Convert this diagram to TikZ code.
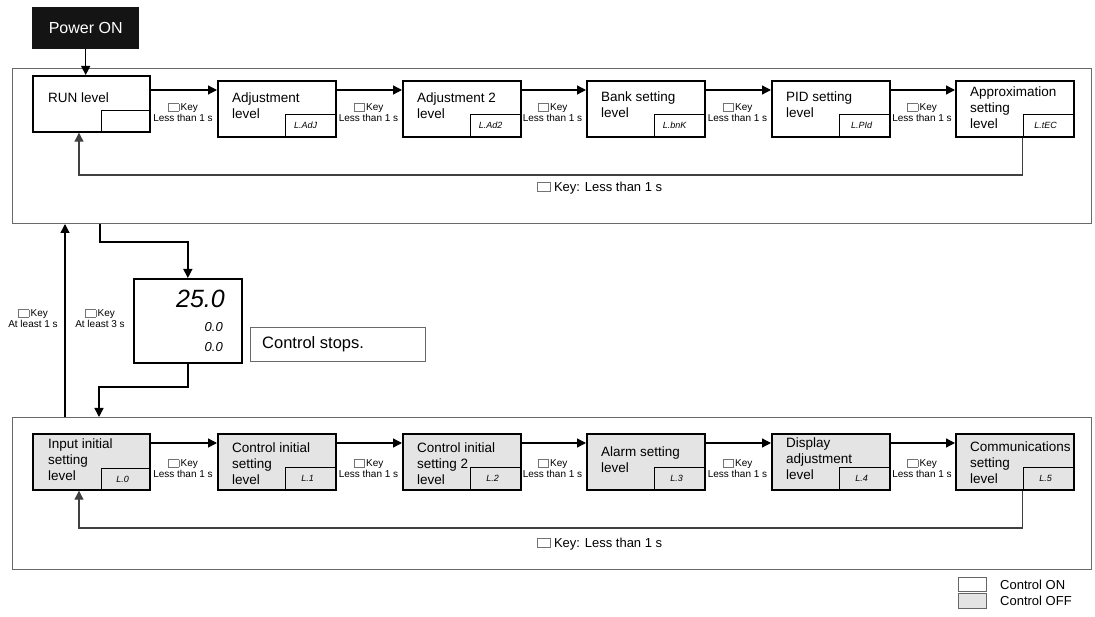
\documentclass[tikz,border=0pt]{standalone}
\usepackage{fontspec}
\setmainfont{Liberation Sans}
\usetikzlibrary{arrows.meta}
\definecolor{offgray}{RGB}{228,228,228}
\definecolor{framegray}{RGB}{105,105,105}
\newcommand{\keysq}{{\color{black!55}\setlength{\fboxrule}{0.5pt}\setlength{\fboxsep}{0pt}\fbox{\rule{0pt}{7pt}\rule{10pt}{0pt}}}}
\newcommand{\keysqL}{{\color{black!55}\setlength{\fboxrule}{0.6pt}\setlength{\fboxsep}{0pt}\fbox{\rule{0pt}{9pt}\rule{12pt}{0pt}}}}
\tikzset{
  frame/.style={draw=framegray, line width=1pt, anchor=north west, inner sep=0, minimum width=1079pt},
  lvl/.style={draw, line width=1.7pt, anchor=north west, inner sep=0, minimum width=118pt, minimum height=56pt},
  lvloff/.style={lvl, fill=offgray},
  codebox/.style={draw, line width=1pt, anchor=south east, inner sep=0, minimum width=51pt, minimum height=23pt},
  codetxt/.style={inner sep=0, font=\fontsize{9}{9}\selectfont\itshape},
  boxtxt/.style={anchor=west, align=left, inner sep=0, font=\fontsize{13.5}{16}\selectfont},
  keylbl/.style={align=center, inner sep=0, font=\fontsize{10}{10.5}\selectfont},
  biglbl/.style={anchor=west, inner sep=0, font=\fontsize{13}{14}\selectfont},
  conn/.style={line width=1.3pt, -{Triangle[length=9pt,width=9pt]}},
  retline/.style={line width=1.1pt, draw=black!75, -{Triangle[length=9pt,width=9pt]}},
}
\begin{document}
\begin{tikzpicture}[x=1pt,y=-1pt]
\useasboundingbox (0,0) rectangle (1095,617);

% frames
\node[frame, minimum height=155pt] (topframe) at (12,68) {};
\node[frame, minimum height=152pt] (botframe) at (12,417) {};

% power on
\node[fill=black!92, text=white, anchor=north west, inner sep=0, minimum width=107pt, minimum height=42pt, font=\fontsize{16}{18}\selectfont] (pw) at (32,7) {Power ON};

% top row
\node[lvl, minimum width=117pt] (run) at (32,75) {};
\node[lvl] (adj) at (217,80) {};
\node[lvl] (adj2) at (402,80) {};
\node[lvl] (bank) at (586,80) {};
\node[lvl] (pid) at (771,80) {};
\node[lvl] (app) at (955,80) {};
\draw[conn] (pw.south) -- (pw.south |- run.north);

\node[codebox, minimum width=49pt, minimum height=22pt] (runc) at (run.south east) {};
\node[codebox] (adjc) at (adj.south east) {};
\node[codebox] (adj2c) at (adj2.south east) {};
\node[codebox] (bankc) at (bank.south east) {};
\node[codebox] (pidc) at (pid.south east) {};
\node[codebox] (appc) at (app.south east) {};

\node[codetxt] (adjct) at ([xshift=-5pt]adjc.center) {L.AdJ};
\node[codetxt] (adj2ct) at ([xshift=-5pt]adj2c.center) {L.Ad2};
\node[codetxt] (bankct) at ([xshift=-5pt]bankc.center) {L.bnK};
\node[codetxt] (pidct) at ([xshift=-3pt]pidc.center) {L.PId};
\node[codetxt] (appct) at ([xshift=-3pt]appc.center) {L.tEC};

\node[boxtxt] (runt) at (48,98) {RUN level};
\node[boxtxt] (adjt) at (232,105.5) {Adjustment\\level};
\node[boxtxt] (adj2t) at (417,105.5) {Adjustment 2\\level};
\node[boxtxt] (bankt) at (601,105) {Bank setting\\level};
\node[boxtxt] (pidt) at (786,105) {PID setting\\level};
\node[boxtxt] (appt) at (970,108) {Approximation\\setting\\level};

\draw[conn] ([yshift=-15pt]run.north east) -- ([yshift=-10pt]adj.north west);
\draw[conn] ([yshift=-10pt]adj.north east) -- ([yshift=-10pt]adj2.north west);
\draw[conn] ([yshift=-10pt]adj2.north east) -- ([yshift=-10pt]bank.north west);
\draw[conn] ([yshift=-10pt]bank.north east) -- ([yshift=-10pt]pid.north west);
\draw[conn] ([yshift=-10pt]pid.north east) -- ([yshift=-10pt]app.north west);

\node[keylbl] (k1) at (183,112.5) {\keysq\,Key\\Less than 1 s};
\node[keylbl] (k2) at (368.5,112.5) {\keysq\,Key\\Less than 1 s};
\node[keylbl] (k3) at (552.5,112.5) {\keysq\,Key\\Less than 1 s};
\node[keylbl] (k4) at (737.5,112.5) {\keysq\,Key\\Less than 1 s};
\node[keylbl] (k5) at (922,112.5) {\keysq\,Key\\Less than 1 s};

\coordinate (rt1) at (79,175);
\draw[retline] (appc.south west) |- (rt1) -- (rt1 |- run.south);
\node[biglbl] (rl1) at (537,188) {\keysqL\ Key: Less than 1 s};

% middle
\coordinate (d1) at (100,242);
\coordinate (d2) at (99,387);
\coordinate (u1) at (65,300);
\node[draw, line width=1.7pt, anchor=north west, inner sep=0, minimum width=108pt, minimum height=84pt] (disp) at (133,278) {};
\draw[conn] (topframe.south -| d1) -- (d1) -| (disp.north);
\draw[conn] (disp.south) |- (d2) -- (d2 |- botframe.north);
\draw[conn] (botframe.north -| u1) -- (topframe.south -| u1);

\node[anchor=east, inner sep=0, font=\fontsize{25}{25}\selectfont\itshape] (dbig) at (225,299) {25.0};
\node[anchor=east, inner sep=0, font=\fontsize{13}{13}\selectfont\itshape] (dsm1) at (223,327) {0.0};
\node[anchor=east, inner sep=0, font=\fontsize{13}{13}\selectfont\itshape] (dsm2) at (223,347) {0.0};

\node[keylbl] (ku) at (33,318.5) {\keysq\,Key\\At least 1 s};
\node[keylbl] (kd) at (100,318.5) {\keysq\,Key\\At least 3 s};

\node[draw=framegray, line width=1pt, anchor=north west, inner sep=0, minimum width=175pt, minimum height=34pt] (stop) at (250,327) {};
\node[anchor=west, inner sep=0, font=\fontsize{16.5}{18}\selectfont] (stopt) at (262,344) {Control stops.};

% bottom row
\node[lvloff, minimum width=117pt] (inp) at (32,433) {};
\node[lvloff] (cin) at (217,433) {};
\node[lvloff] (cin2) at (402,433) {};
\node[lvloff] (alm) at (586,433) {};
\node[lvloff] (dsp) at (771,433) {};
\node[lvloff] (com) at (955,433) {};

\node[codebox, minimum width=49pt, minimum height=22pt] (inpc) at (inp.south east) {};
\node[codebox] (cinc) at (cin.south east) {};
\node[codebox] (cin2c) at (cin2.south east) {};
\node[codebox] (almc) at (alm.south east) {};
\node[codebox] (dspc) at (dsp.south east) {};
\node[codebox] (comc) at (com.south east) {};

\node[codetxt] (inpct) at ([xshift=-3pt]inpc.center) {L.0};
\node[codetxt] (cinct) at ([xshift=-3pt]cinc.center) {L.1};
\node[codetxt] (cin2ct) at ([xshift=-3pt]cin2c.center) {L.2};
\node[codetxt] (almct) at ([xshift=-3pt]almc.center) {L.3};
\node[codetxt] (dspct) at ([xshift=-3pt]dspc.center) {L.4};
\node[codetxt] (comct) at ([xshift=-3pt]comc.center) {L.5};

\node[boxtxt] (inpt) at (48,460) {Input initial\\setting\\level};
\node[boxtxt] (cint) at (232,464) {Control initial\\setting\\level};
\node[boxtxt] (cin2t) at (417,464) {Control initial\\setting 2\\level};
\node[boxtxt] (almt) at (601,460) {Alarm setting\\level};
\node[boxtxt] (dspt) at (786,459) {Display\\adjustment\\level};
\node[boxtxt] (comt) at (970,463) {Communications\\setting\\level};

\draw[conn] ([yshift=-10pt]inp.north east) -- ([yshift=-10pt]cin.north west);
\draw[conn] ([yshift=-10pt]cin.north east) -- ([yshift=-10pt]cin2.north west);
\draw[conn] ([yshift=-10pt]cin2.north east) -- ([yshift=-10pt]alm.north west);
\draw[conn] ([yshift=-10pt]alm.north east) -- ([yshift=-10pt]dsp.north west);
\draw[conn] ([yshift=-10pt]dsp.north east) -- ([yshift=-10pt]com.north west);

\node[keylbl] (b1) at (183,468.5) {\keysq\,Key\\Less than 1 s};
\node[keylbl] (b2) at (368.5,468.5) {\keysq\,Key\\Less than 1 s};
\node[keylbl] (b3) at (552.5,468.5) {\keysq\,Key\\Less than 1 s};
\node[keylbl] (b4) at (737.5,468.5) {\keysq\,Key\\Less than 1 s};
\node[keylbl] (b5) at (922,468.5) {\keysq\,Key\\Less than 1 s};

\coordinate (rt2) at (79,528);
\draw[retline] (comc.south west) |- (rt2) -- (rt2 |- inp.south);
\node[biglbl] (rl2) at (537,544) {\keysqL\ Key: Less than 1 s};

% legend
\node[draw=black!60, line width=0.8pt, anchor=north west, inner sep=0, minimum width=28pt, minimum height=14pt] (lon) at (958,577) {};
\node[draw=black!60, fill=offgray, line width=0.8pt, anchor=north west, inner sep=0, minimum width=28pt, minimum height=15pt] (loff) at (958,593) {};
\node[anchor=west, inner sep=0, font=\fontsize{13}{14}\selectfont] (lont) at (1000,585) {Control ON};
\node[anchor=west, inner sep=0, font=\fontsize{13}{14}\selectfont] (lofft) at (1000,601) {Control OFF};
\end{tikzpicture}
\end{document}
